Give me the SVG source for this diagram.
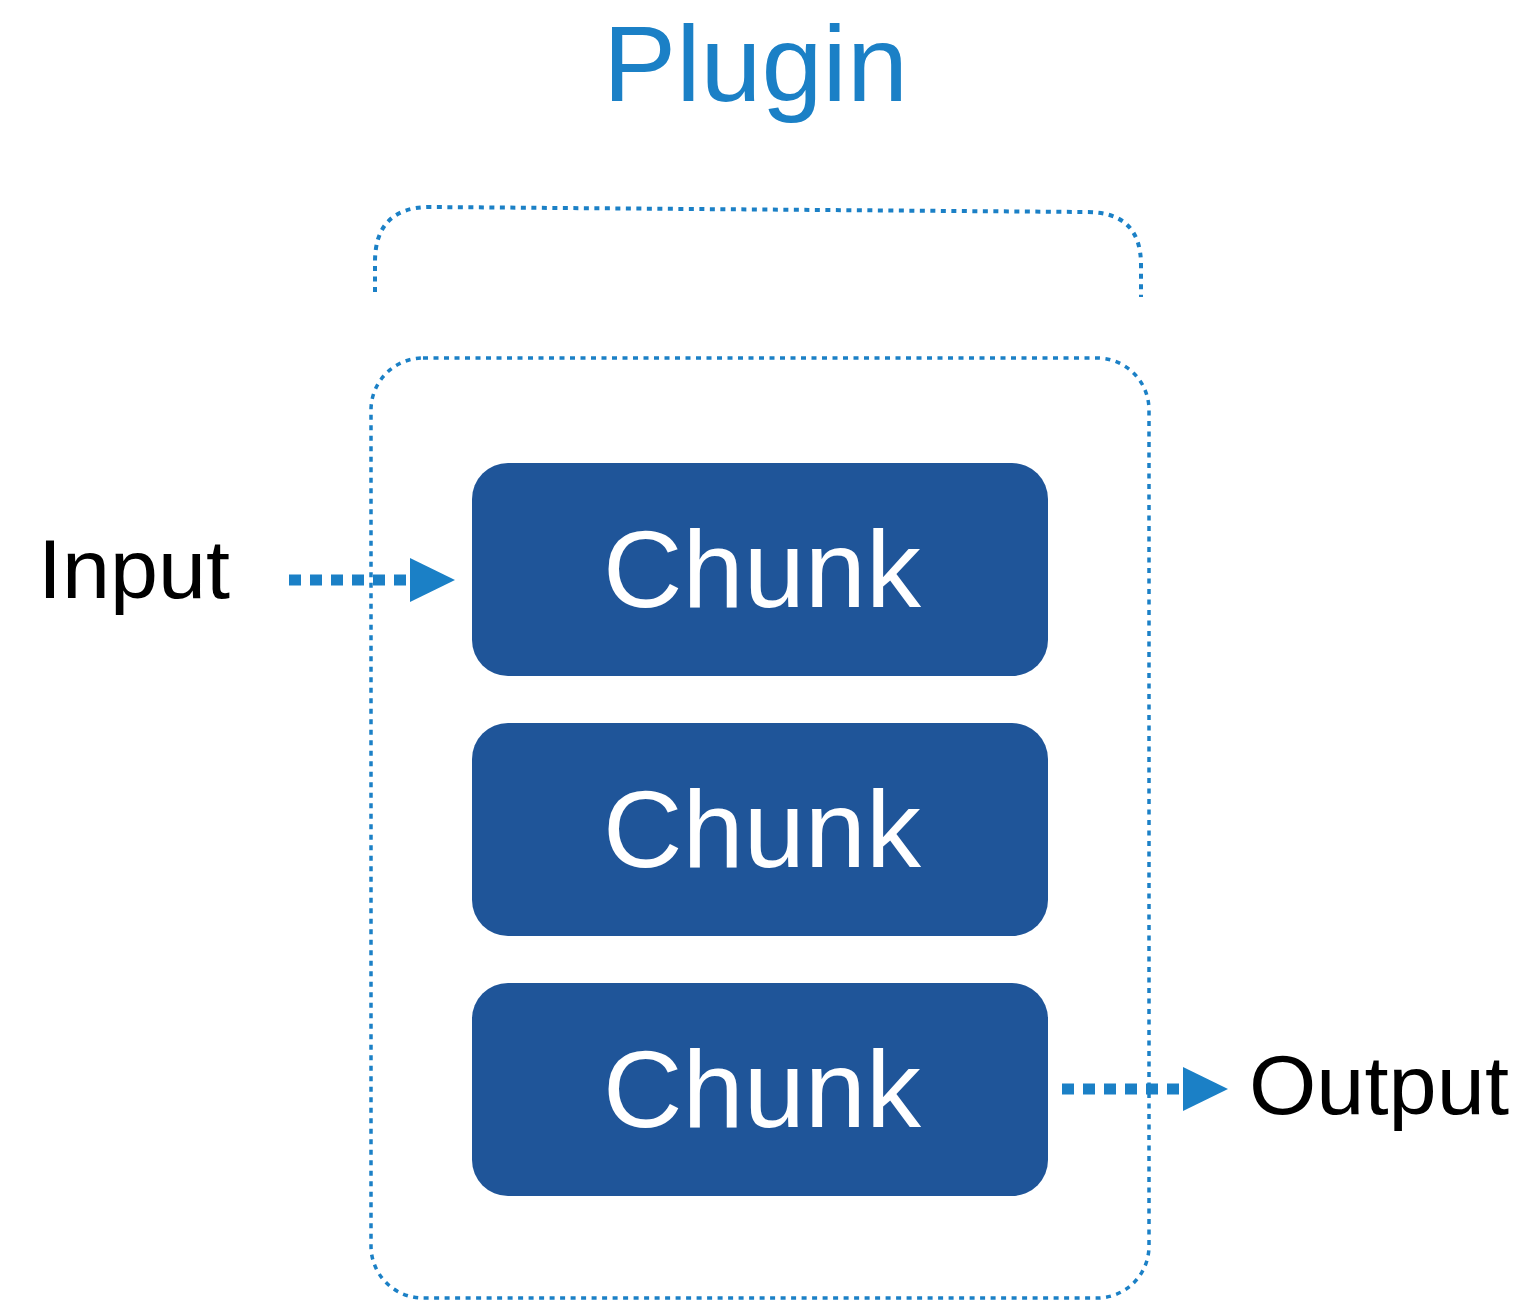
<svg xmlns="http://www.w3.org/2000/svg" width="1526" height="1300" viewBox="0 0 1526 1300">
<defs>
<style>
.dot{fill:none;stroke:#1B80C6;stroke-width:4;stroke-dasharray:5 5.5}
.chunk{fill:#1F5599}
.ct{font-family:"Liberation Sans",Arial,sans-serif;font-size:110px;fill:#fff}
.lbl{font-family:"Liberation Sans",Arial,sans-serif;font-size:83px;fill:#000}
.flow{fill:none;stroke:#1B80C6;stroke-width:11;stroke-dasharray:12 9}
.head{fill:#1B80C6}
</style>
</defs>
<rect width="1526" height="1300" fill="#fff"/>
<g id="title"><text x="603" y="101" textLength="305" lengthAdjust="spacingAndGlyphs" font-family="'Liberation Sans',Arial,sans-serif" font-size="108" fill="#1B80C6">Plugin</text></g>
<g id="bracket"><path class="dot" d="M375,292 L375,262 Q375,207 430,207 L1087,212 Q1141,212 1141,265 L1141,297"/></g>
<g id="plugin-box"><rect class="dot" x="371" y="358" width="778" height="940" rx="52" ry="52" style="stroke-width:3.5"/></g>
<g id="chunk1"><rect class="chunk" x="472" y="463" width="576" height="213" rx="36"/><text class="ct" x="603" y="607" textLength="318" lengthAdjust="spacingAndGlyphs">Chunk</text></g>
<g id="chunk2"><rect class="chunk" x="472" y="723" width="576" height="213" rx="36"/><text class="ct" x="603" y="867" textLength="318" lengthAdjust="spacingAndGlyphs">Chunk</text></g>
<g id="chunk3"><rect class="chunk" x="472" y="983" width="576" height="213" rx="36"/><text class="ct" x="603" y="1127" textLength="318" lengthAdjust="spacingAndGlyphs">Chunk</text></g>
<g id="input"><text class="lbl" x="38" y="598" textLength="192" lengthAdjust="spacingAndGlyphs">Input</text></g>
<g id="output"><text class="lbl" x="1249" y="1114" textLength="260" lengthAdjust="spacingAndGlyphs">Output</text></g>
<g id="connectors">
<path class="flow" d="M289,580 L410,580"/>
<polygon class="head" points="410,558 455,580 410,602"/>
<path class="flow" d="M1062,1089 L1182,1089"/>
<polygon class="head" points="1183,1067 1228,1089 1183,1111"/>
</g>
</svg>
